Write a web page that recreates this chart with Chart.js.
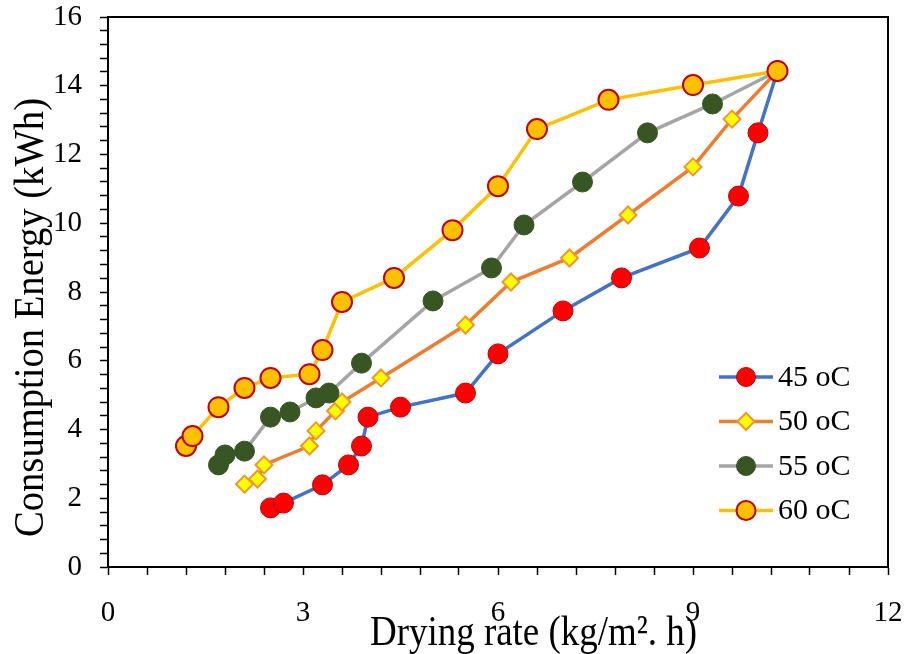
<!DOCTYPE html>
<html>
<head>
<meta charset="utf-8">
<script src="https://cdn.jsdelivr.net/npm/chart.js@4"></script>
<style>
  html, body { margin: 0; padding: 0; background: #fff; }
  #wrap { width: 906px; height: 654px; }
</style>
</head>
<body>
<div id="wrap"><canvas id="myChart" width="906" height="654"></canvas></div>
<script>
// values
const rate45 = [2.5, 2.7, 3.3, 3.7, 3.9, 4.0, 4.5, 5.5, 6.0, 7.0, 7.9, 9.1, 9.7, 10.0, 10.3];
const energy45 = [1.72, 1.86, 2.39, 2.97, 3.52, 4.36, 4.65, 5.06, 6.2, 7.45, 8.41, 9.28, 10.79, 12.63, 14.43];

const rate50 = [2.1, 2.3, 2.4, 3.1, 3.2, 3.5, 3.6, 4.2, 5.5, 6.2, 7.1, 8.0, 9.0, 9.6, 10.3];
const energy50 = [2.41, 2.56, 2.97, 3.52, 3.96, 4.54, 4.8, 5.5, 7.04, 8.29, 8.99, 10.24, 11.64, 13.03, 14.43];

const rate55 = [1.7, 1.8, 2.1, 2.5, 2.8, 3.2, 3.4, 3.9, 5.0, 5.9, 6.4, 7.3, 8.3, 9.3, 10.3];
const energy55 = [2.97, 3.26, 3.37, 4.36, 4.51, 4.92, 5.06, 5.93, 7.74, 8.7, 9.95, 11.2, 12.63, 13.47, 14.43];

const rate60 = [1.2, 1.3, 1.7, 2.1, 2.5, 3.1, 3.3, 3.6, 4.4, 5.3, 6.0, 6.6, 7.7, 9.0, 10.3];
const energy60 = [3.52, 3.81, 4.65, 5.21, 5.5, 5.61, 6.31, 7.71, 8.41, 9.8, 11.08, 12.74, 13.59, 14.02, 14.43];

const seriesLabels = ['45 oC', '50 oC', '55 oC', '60 oC'];
const xTicks = [0, 3, 6, 9, 12];
const yTicks = [0, 2, 4, 6, 8, 10, 12, 14, 16];
const xTitle = 'Drying rate (kg/m\u00B2. h)';
const yTitle = 'Consumption Energy (kWh)';

const serif = "'Liberation Serif', 'Times New Roman', serif";

function toPoints(xs, ys) {
  return xs.map((x, i) => ({ x: x, y: ys[i] }));
}

function isMajor(v, list) {
  return list.some(t => Math.abs(t - v) < 1e-6);
}

const styles = [
  { line: '#4472c4', fill: '#ff0000', border: '#c00000', shape: 'circle', r: 10, bw: 1 },
  { line: '#ed7d31', fill: '#ffff00', border: '#f0962e', shape: 'rectRot', r: 8.5, bw: 2 },
  { line: '#a5a5a5', fill: '#375623', border: '#375623', shape: 'circle', r: 10, bw: 1 },
  { line: '#ffc000', fill: '#ffc000', border: '#c00000', shape: 'circle', r: 10, bw: 2 }
];

const allData = [
  toPoints(rate45, energy45),
  toPoints(rate50, energy50),
  toPoints(rate55, energy55),
  toPoints(rate60, energy60)
];

const datasets = allData.map((pts, i) => ({
  label: seriesLabels[i],
  data: pts,
  showLine: true,
  borderColor: styles[i].line,
  borderWidth: 3.5,
  pointStyle: styles[i].shape,
  pointRadius: styles[i].r,
  pointHoverRadius: styles[i].r,
  pointBackgroundColor: styles[i].fill,
  pointBorderColor: styles[i].border,
  pointBorderWidth: styles[i].bw,
  order: 4 - i
}));

function drawMarker(ctx, s, x, y) {
  ctx.beginPath();
  if (s.shape === 'circle') {
    ctx.arc(x, y, s.r - 0.5, 0, Math.PI * 2);
  } else {
    ctx.moveTo(x - s.r, y);
    ctx.lineTo(x, y - s.r);
    ctx.lineTo(x + s.r, y);
    ctx.lineTo(x, y + s.r);
    ctx.closePath();
  }
  ctx.fillStyle = s.fill;
  ctx.fill();
  ctx.lineWidth = s.bw;
  ctx.strokeStyle = s.border;
  ctx.stroke();
}

// condensed title text, squeezed to the width seen in the picture
function squeezedText(ctx, text, size, targetLen) {
  ctx.font = size + 'px ' + serif;
  const w = ctx.measureText(text).width;
  const sx = targetLen / w;
  ctx.scale(sx, 1);
  ctx.fillText(text, 0, 0);
}

// box around the plot, axis titles, legend with line and marker
const framePlugin = {
  id: 'frame',
  afterDraw(chart) {
    const ctx = chart.ctx;
    const a = chart.chartArea;
    ctx.save();
    ctx.strokeStyle = '#000';
    ctx.lineWidth = 2;
    ctx.strokeRect(a.left, a.top, a.right - a.left, a.bottom - a.top);

    ctx.fillStyle = '#000';
    ctx.textAlign = 'center';
    ctx.textBaseline = 'alphabetic';

    ctx.save();
    ctx.translate(a.left + 425.5, a.bottom + 78);
    squeezedText(ctx, xTitle, 42, 327);
    ctx.restore();

    ctx.save();
    ctx.translate(43, a.top + 300.5);
    ctx.rotate(-Math.PI / 2);
    squeezedText(ctx, yTitle, 43, 439);
    ctx.restore();

    const lx = a.right - 169;
    ctx.font = '30px ' + serif;
    ctx.textBaseline = 'middle';
    ctx.textAlign = 'left';
    styles.forEach((s, i) => {
      const y = a.top + 360 + i * 44.5;
      ctx.beginPath();
      ctx.moveTo(lx, y);
      ctx.lineTo(lx + 54, y);
      ctx.lineWidth = 3.5;
      ctx.strokeStyle = s.line;
      ctx.stroke();
      drawMarker(ctx, s, lx + 27, y);
      ctx.fillStyle = '#000';
      ctx.fillText(seriesLabels[i], lx + 59, y + 1);
    });
    ctx.restore();
  }
};

const ctx = document.getElementById('myChart');

new Chart(ctx, {
  type: 'scatter',
  data: { datasets: datasets },
  options: {
    responsive: false,
    animation: false,
    events: [],
    layout: { padding: { top: 17, right: 18, left: 0, bottom: 0 } },
    plugins: {
      legend: { display: false },
      tooltip: { enabled: false }
    },
    scales: {
      x: {
        type: 'linear',
        min: 0,
        max: 12,
        afterFit(scale) {
          scale.height = 87;
          scale.paddingLeft = 0;
          scale.paddingRight = 0;
        },
        afterBuildTicks(scale) {
          const t = [];
          for (let k = 0; k <= 20; k++) t.push({ value: k * 0.6 });
          scale.ticks = t;
        },
        ticks: {
          autoSkip: false,
          maxRotation: 0,
          color: '#000',
          padding: 21,
          font: { family: serif, size: 29 },
          callback: v => isMajor(v, xTicks) ? String(Math.round(v)) : ''
        },
        grid: {
          drawOnChartArea: false,
          drawTicks: true,
          tickLength: 8,
          tickWidth: 1.5,
          color: '#000'
        },
        border: { display: true, color: '#000', width: 2 },
        title: { display: false }
      },
      y: {
        type: 'linear',
        min: 0,
        max: 16,
        afterFit(scale) {
          scale.width = 108;
          scale.paddingTop = 0;
          scale.paddingBottom = 0;
        },
        afterBuildTicks(scale) {
          const t = [];
          for (let k = 0; k <= 40; k++) t.push({ value: k * 0.4 });
          scale.ticks = t;
        },
        ticks: {
          autoSkip: false,
          color: '#000',
          padding: 18,
          font: { family: serif, size: 29 },
          callback: v => isMajor(v, yTicks) ? String(Math.round(v)) : ''
        },
        grid: {
          drawOnChartArea: false,
          drawTicks: true,
          tickLength: 8,
          tickWidth: 1.5,
          color: '#000'
        },
        border: { display: true, color: '#000', width: 2 },
        title: { display: false }
      }
    }
  },
  plugins: [framePlugin]
});
</script>
</body>
</html>
